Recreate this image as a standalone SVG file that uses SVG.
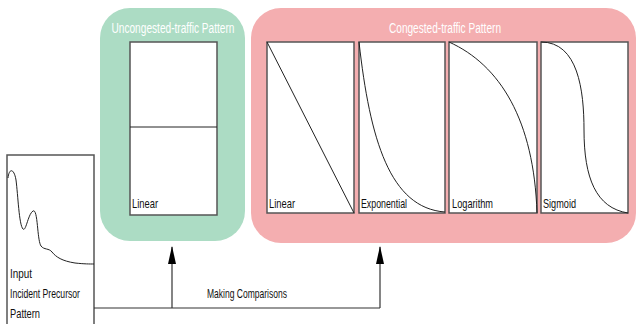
<svg xmlns="http://www.w3.org/2000/svg" width="638" height="324" viewBox="0 0 638 324">
<defs>
<style>
.t{font-family:"Liberation Sans Narrow","Liberation Sans",Arial,sans-serif;font-size:13px;fill:#111}
.title{font-family:"Liberation Sans Narrow","Liberation Sans",Arial,sans-serif;font-size:14px;fill:#fff}
.box{fill:#fff;stroke:#555;stroke-width:1.5}
.curve{fill:none;stroke:#222;stroke-width:1}
.conn{fill:none;stroke:#333;stroke-width:1.2}
</style>
<marker id="arr" viewBox="0 0 18 8" refX="17" refY="4" markerWidth="18" markerHeight="8" markerUnits="userSpaceOnUse" orient="auto">
<path d="M0,0 L18,4 L0,8 Z" fill="#000"/>
</marker>
</defs>
<rect width="638" height="324" fill="#fff"/>
<g id="uncongested">
<rect x="100" y="8" width="145" height="233" rx="30" fill="#acdcc4"/>
<text class="title" x="173" y="33" text-anchor="middle" textLength="123" lengthAdjust="spacingAndGlyphs">Uncongested-traffic Pattern</text>
<rect class="box" x="130" y="42" width="87" height="173"/>
<line class="curve" x1="130" y1="127" x2="217" y2="127"/>
<text class="t" x="132" y="208" textLength="26" lengthAdjust="spacingAndGlyphs">Linear</text>
</g>
<g id="congested">
<rect x="251" y="8" width="385" height="235" rx="30" fill="#f4aeb0"/>
<text class="title" x="445" y="33" text-anchor="middle" textLength="112" lengthAdjust="spacingAndGlyphs">Congested-traffic Pattern</text>
</g>
<g id="linear">
<rect class="box" x="267" y="42" width="87" height="171"/>
<path class="curve" d="M267,42 L354,213"/>
<text class="t" x="269" y="208" textLength="26" lengthAdjust="spacingAndGlyphs">Linear</text>
</g>
<g id="exponential">
<rect class="box" x="359" y="42" width="86" height="171"/>
<path class="curve" d="M359,42 C370,140 390,208 445,212"/>
<text class="t" x="361" y="208" textLength="46" lengthAdjust="spacingAndGlyphs">Exponential</text>
</g>
<g id="logarithm">
<rect class="box" x="449" y="42" width="88" height="171"/>
<path class="curve" d="M449,42 C500,65 534,120 537,213"/>
<text class="t" x="452" y="208" textLength="41" lengthAdjust="spacingAndGlyphs">Logarithm</text>
</g>
<g id="sigmoid">
<rect class="box" x="541" y="42" width="87" height="171"/>
<path class="curve" d="M541,42 C578,42 584,90 584,130 C584,178 596,208 628,213"/>
<text class="t" x="543" y="208" textLength="33" lengthAdjust="spacingAndGlyphs">Sigmoid</text>
</g>
<g id="input">
<path d="M7,324 L7,155 L94,155 L94,324" fill="#fff" stroke="#555" stroke-width="1.5"/>
<path class="curve" stroke-width="1.3" d="M8,178 C9,168 14,168 16,180 C18,195 19,225 23,229 C26,232 28,214 33,211 C38,208 37,240 41,246 C44,250 49,248 52,252 C56,257 62,261 75,263 C84,264 90,264 94,264"/>
<text class="t" x="10" y="278" textLength="22" lengthAdjust="spacingAndGlyphs">Input</text>
<text class="t" x="10" y="298" textLength="70" lengthAdjust="spacingAndGlyphs">Incident Precursor</text>
<text class="t" x="10" y="318" textLength="30" lengthAdjust="spacingAndGlyphs">Pattern</text>
</g>
<g id="connectors">
<path class="conn" d="M94,308 L380,308"/>
<path class="conn" d="M172,308 L172,247" marker-end="url(#arr)"/>
<path class="conn" d="M380,308 L380,247" marker-end="url(#arr)"/>
<text class="t" x="207" y="298" textLength="80" lengthAdjust="spacingAndGlyphs">Making Comparisons</text>
</g>
</svg>
